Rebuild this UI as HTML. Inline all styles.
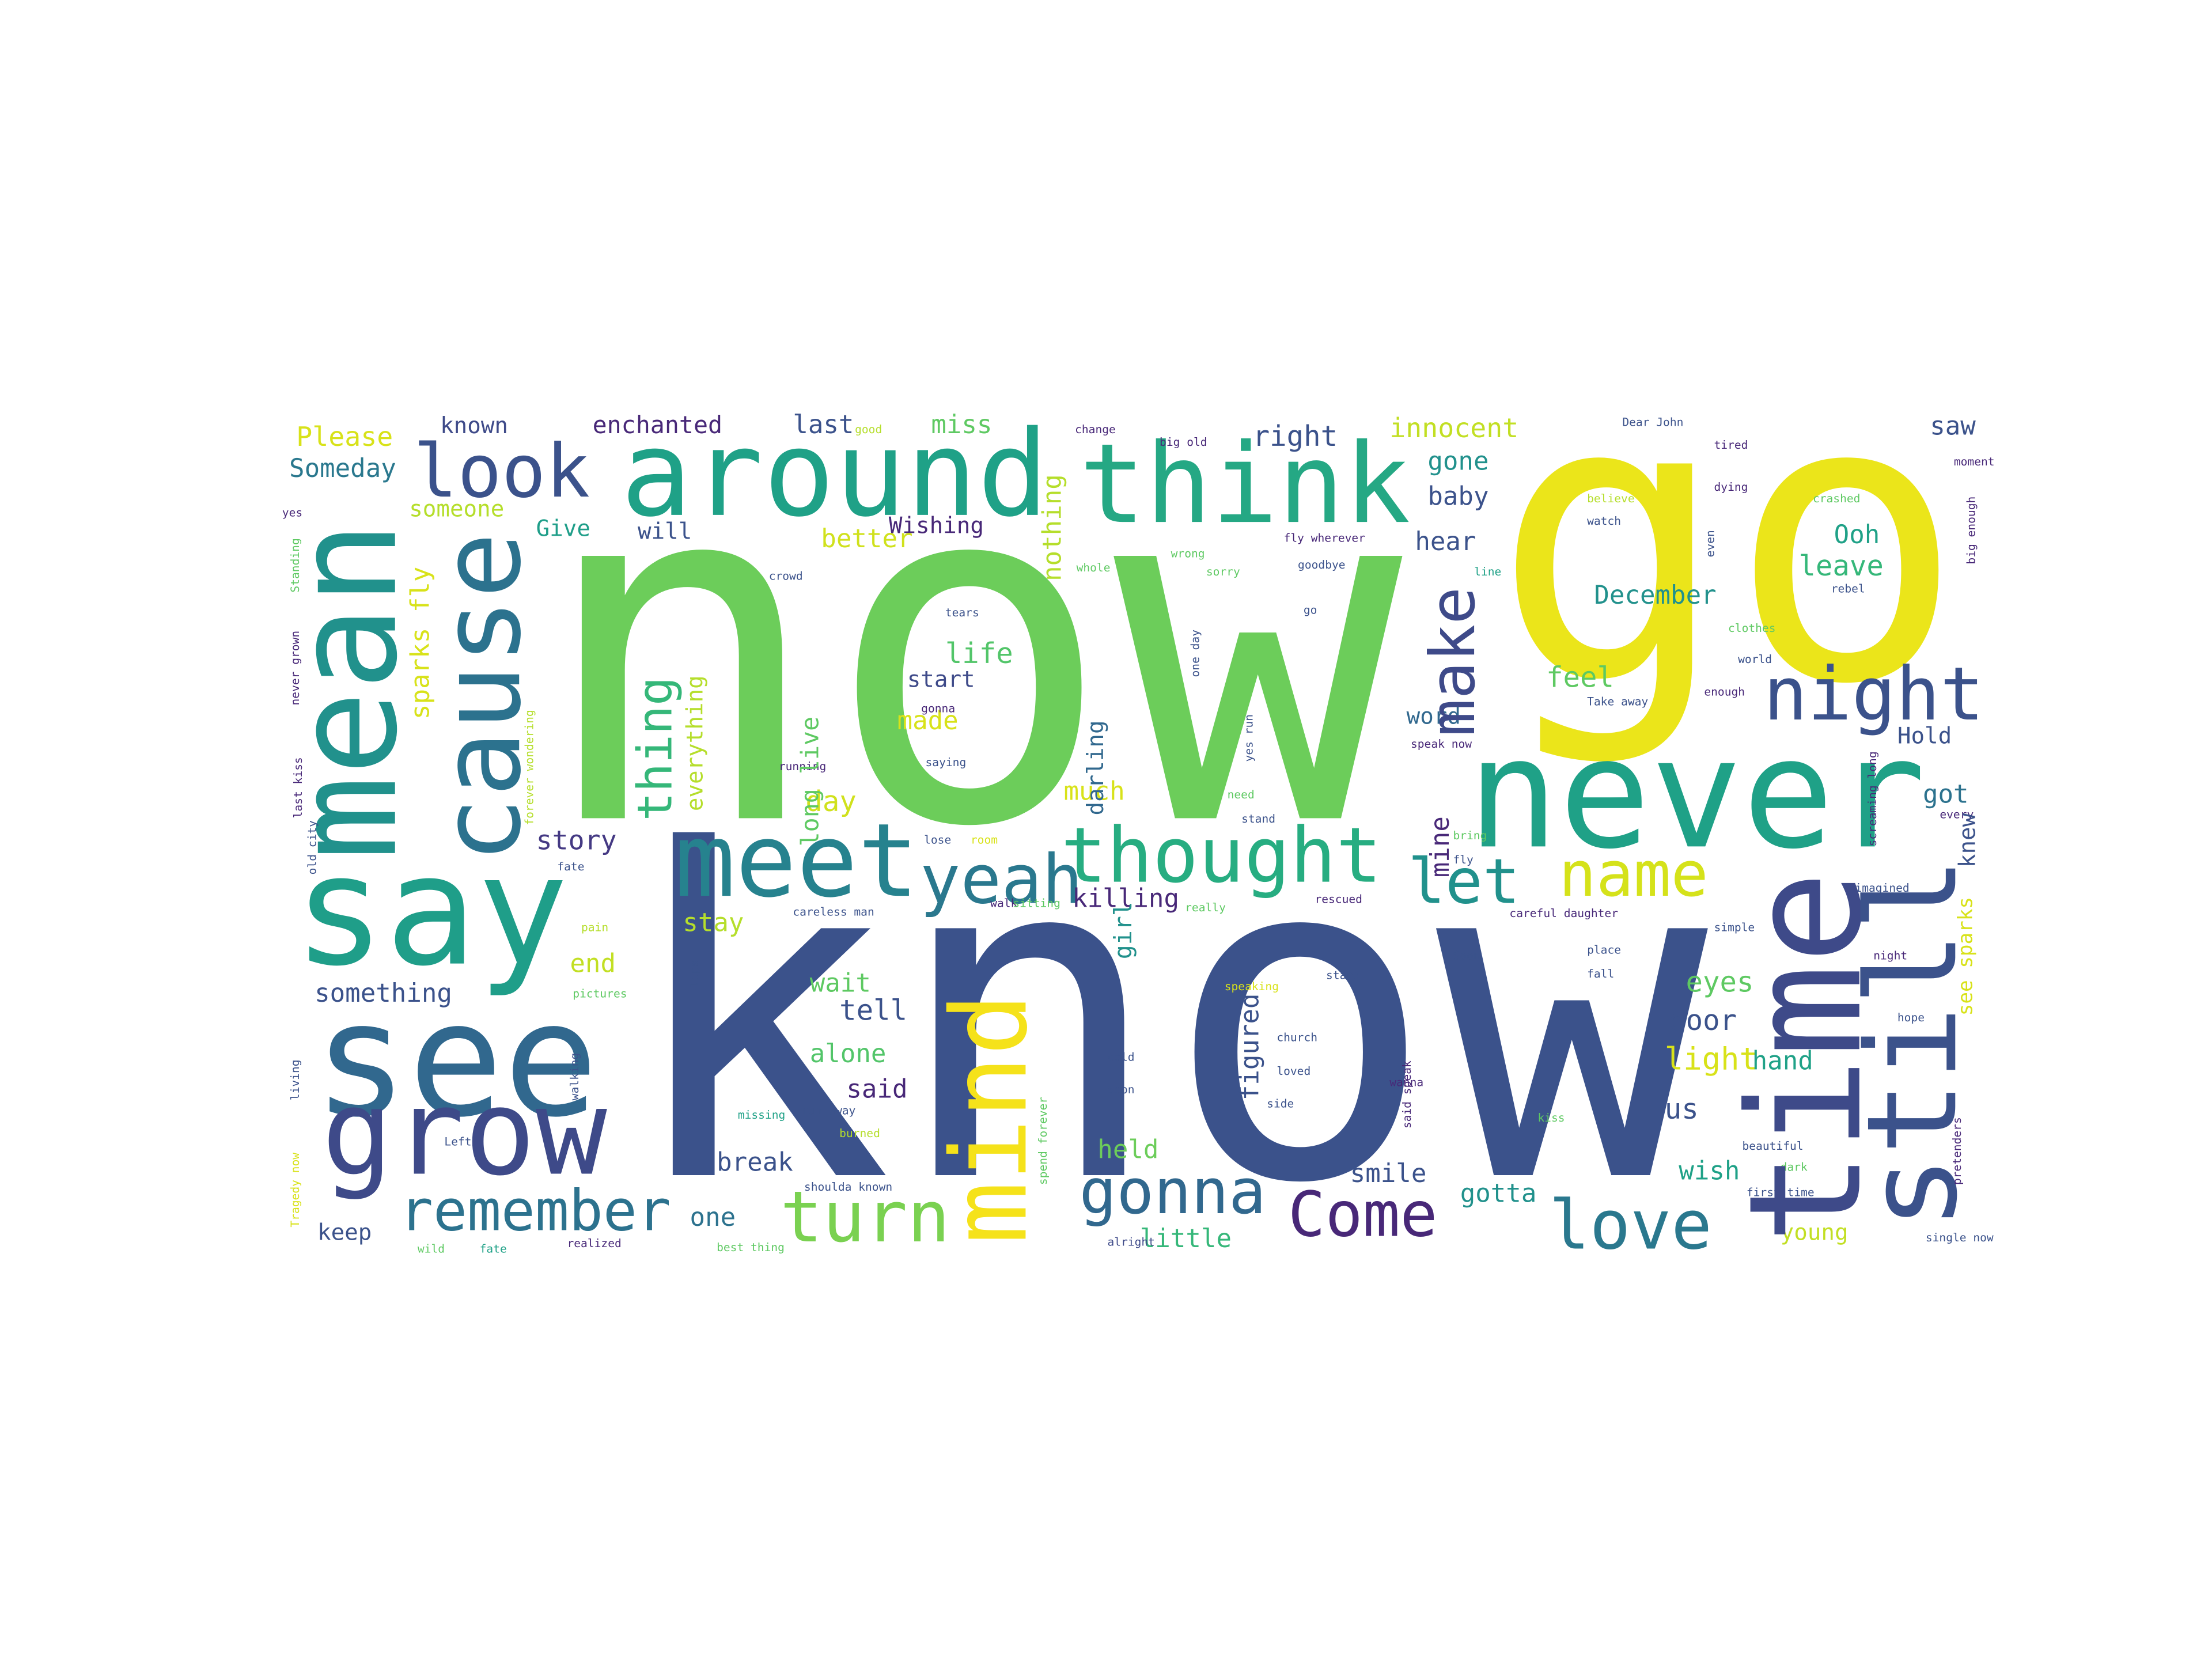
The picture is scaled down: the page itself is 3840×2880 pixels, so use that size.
<!DOCTYPE html>
<html><head><meta charset="utf-8"><style>
html,body{margin:0;padding:0;background:#fff;width:3840px;height:2880px;overflow:hidden}
svg{display:block}
text{font-family:"DejaVu Sans Mono","Liberation Mono",monospace}
</style></head><body>
<svg id="cloud" width="3840" height="2880" viewBox="0 0 1568 1176" xmlns="http://www.w3.org/2000/svg"></svg>
<script>
// word, x, baseline y, size, color, rotated
const words = [
["now",380,580,340,"#6ccd5a",0],
["know",440,833,320,"#3b528b",0],
["go",1058,480,278,"#ebe51a",0],
["never",1040,600,108,"#1fa187",0],
["say",208,683,108,"#1f9e89",0],
["see",222,790,112,"#31688e",0],
["grow",228,832,84,"#3e4a89",0],
["around",440,365,84,"#1fa187",0],
["think",765,370,78,"#25a884",0],
["look",293,352,52,"#3b528b",0],
["meet",478,635,72,"#26828e",0],
["thought",752,625,54,"#27ad81",0],
["yeah",652,640,48,"#2a788e",0],
["night",1250,510,52,"#3b528b",0],
["let",998,640,44,"#21918c",0],
["name",1105,635,44,"#d5e21a",0],
["remember",283,872,40,"#2c728e",0],
["turn",553,880,50,"#7ad151",0],
["gonna",765,860,44,"#31688e",0],
["Come",913,876,44,"#482878",0],
["love",1098,885,48,"#2a788e",0],
["Please",210,316,19,"#d8e219",0],["Someday",205,338,18,"#2a788e",0],["known",312,307,16,"#3e4a89",0],
["enchanted",420,307,17,"#482878",0],["last",562,307,18,"#3b528b",0],["miss",660,307,18,"#5ec962",0],
["right",888,316,20,"#3b528b",0],["innocent",985,310,19,"#c2df23",0],["saw",1368,308,18,"#3b528b",0],
["someone",290,366,16,"#b5de2b",0],["Give",380,380,16,"#1f9e89",0],["will",452,382,16,"#3b528b",0],
["better",582,388,18,"#d0e11c",0],["Wishing",630,378,16,"#482878",0],["gone",1012,333,18,"#21918c",0],
["baby",1012,358,18,"#3b528b",0],["hear",1003,390,18,"#3b528b",0],["Ooh",1300,385,18,"#1fa187",0],
["leave",1275,408,20,"#35b779",0],["December",1130,428,18,"#21918c",0],["life",670,470,20,"#52c569",0],
["start",643,487,16,"#3e4a89",0],["feel",1096,487,20,"#5ec962",0],["word",997,513,16,"#31688e",0],
["made",636,517,18,"#d8e219",0],["Hold",1345,527,16,"#3b528b",0],["day",571,575,20,"#d0e11c",0],
["much",754,567,18,"#d8e219",0],["got",1363,569,18,"#2c728e",0],["story",380,602,19,"#443983",0],
["stay",484,660,18,"#b5de2b",0],["killing",760,643,18,"#482878",0],["end",404,689,18,"#c2df23",0],
["something",223,710,18,"#3b528b",0],["wait",574,703,18,"#5ec962",0],["eyes",1195,703,20,"#5ec962",0],
["tell",595,723,20,"#3b528b",0],["door",1183,730,20,"#3b528b",0],["alone",574,753,18,"#52c569",0],
["light",1180,758,22,"#d8e219",0],["hand",1242,758,18,"#1fa187",0],["said",600,778,18,"#482878",0],
["us",1180,793,20,"#3b528b",0],["held",778,821,18,"#6ccd5a",0],["break",508,830,18,"#3b528b",0],
["smile",957,838,18,"#3b528b",0],["wish",1190,836,18,"#1fa187",0],["gotta",1035,852,18,"#21918c",0],
["one",489,869,18,"#2c728e",0],["keep",225,879,16,"#3b528b",0],["little",808,884,18,"#35b779",0],
["young",1262,879,16,"#c2df23",0],
["good",606,307,8,"#b5de2b",0],["change",762,307,8,"#482878",0],["big old",822,316,8,"#482878",0],
["Dear John",1150,302,8,"#3b528b",0],["tired",1215,318,8,"#482878",0],["believe",1125,356,8,"#b5de2b",0],
["dying",1215,348,8,"#482878",0],["crashed",1285,356,8,"#5ec962",0],["watch",1125,372,8,"#3b528b",0],
["fly wherever",910,384,8,"#482878",0],["goodbye",920,403,8,"#3b528b",0],["rebel",1298,420,8,"#3b528b",0],
["clothes",1225,448,8,"#5ec962",0],["world",1232,470,8,"#3b528b",0],["enough",1208,493,8,"#482878",0],
["Take away",1125,500,8,"#3b528b",0],["speak now",1000,530,8,"#482878",0],["stand",880,583,8,"#3b528b",0],
["imagined",1315,632,8,"#3b528b",0],["careful daughter",1070,650,8,"#482878",0],["simple",1215,660,8,"#3b528b",0],
["place",1125,676,8,"#3b528b",0],["fall",1125,693,8,"#3b528b",0],["night",1328,680,8,"#482878",0],
["hope",1345,724,8,"#3b528b",0],["church",905,738,8,"#3b528b",0],["loved",905,762,8,"#3b528b",0],
["side",898,785,8,"#3b528b",0],["wanna",985,770,8,"#482878",0],["beautiful",1235,815,8,"#3b528b",0],
["dark",1262,830,8,"#5ec962",0],["first time",1238,848,8,"#3b528b",0],["single now",1365,880,8,"#3b528b",0],
["alright",785,883,8,"#3e4a89",0],["realized",402,884,8,"#482878",0],["best thing",508,887,8,"#5ec962",0],
["wild",296,888,8,"#5ec962",0],["fate",340,888,8,"#1fa187",0],["careless man",562,649,8,"#3b528b",0],
["running",552,546,8,"#482878",0],["saying",656,543,8,"#3b528b",0],["tears",670,437,8,"#3b528b",0],
["crowd",545,411,8,"#3b528b",0],["missing",523,793,8,"#1fa187",0],["run away",568,790,8,"#3b528b",0],
["burned",595,806,8,"#b5de2b",0],["shoulda known",570,844,8,"#3b528b",0],["Left",315,812,8,"#3b528b",0],
["pictures",406,707,8,"#5ec962",0],["pain",412,660,8,"#b5de2b",0],["fate",395,617,8,"#3b528b",0],
["kiss",1090,795,8,"#5ec962",0],["Soon",785,775,8,"#3b528b",0],["cold",785,752,8,"#3b528b",0],
["speaking",868,702,8,"#d8e219",0],["need",870,566,8,"#5ec962",0],["wrong",830,395,8,"#5ec962",0],
["sorry",855,408,8,"#5ec962",0],["whole",763,405,8,"#5ec962",0],["lose",655,598,8,"#3b528b",0],
["room",688,598,8,"#d8e219",0],["walk",702,643,8,"#482878",0],["sitting",718,643,8,"#5ec962",0],
["moment",1385,330,8,"#482878",0],["yes",200,366,8,"#482878",0],["line",1045,408,8,"#1fa187",0],
["go",924,435,8,"#3b528b",0],["gonna",653,505,8,"#482878",0],["really",840,646,8,"#5ec962",0],
["stand",940,694,8,"#3b528b",0],["rescued",932,640,8,"#482878",0],["Soon",1030,680,8,"#3b528b",0],
["bring",1030,595,8,"#5ec962",0],["fly",1030,612,8,"#3b528b",0],["every",1375,580,8,"#482878",0],
// rotated
["mean",280,610,100,"#21918c",1],
["cause",368,612,78,"#2c728e",1],
["time",1318,882,110,"#3e4a89",1],
["still",1386,872,88,"#3b528b",1],
["mind",727,882,74,"#f5e21a",1],
["make",1045,522,44,"#3e4a89",1],
["thing",476,582,34,"#35b779",1],
["nothing",752,412,18,"#b5de2b",1],
["sparks fly",304,510,18,"#d8e219",1],
["everything",498,575,16,"#b5de2b",1],
["long live",580,600,17,"#5ec962",1],
["darling",782,578,16,"#31688e",1],
["girl",802,680,17,"#21918c",1],
["figured",892,780,18,"#3b528b",1],
["mine",1027,622,18,"#482878",1],
["knew",1400,615,16,"#3b528b",1],
["see sparks",1398,720,14,"#d8e219",1],
["forever wondering",378,585,8,"#b5de2b",1],
["never grown",212,500,8,"#482878",1],
["last kiss",214,580,8,"#482878",1],
["old city",224,620,8,"#3b528b",1],
["Tragedy now",212,870,8,"#d8e219",1],
["living",212,780,8,"#3b528b",1],
["Standing",212,420,8,"#5ec962",1],
["screaming long",1330,600,8,"#482878",1],
["pretenders",1390,840,8,"#482878",1],
["walking",410,780,8,"#3b528b",1],
["spend forever",742,840,8,"#5ec962",1],
["said speak",1000,800,8,"#482878",1],
["yes run",888,540,8,"#3b528b",1],
["big enough",1400,400,8,"#482878",1],
["even",1215,395,8,"#3b528b",1],
["lips",495,700,8,"#3b528b",1],
["one day",850,480,8,"#3b528b",1]
];
const svg = document.getElementById('cloud');
const NS = 'http://www.w3.org/2000/svg';
for (const w of words) {
  const t = document.createElementNS(NS, 'text');
  t.textContent = w[0];
  t.setAttribute('font-size', w[3]);
  t.setAttribute('fill', w[4]);
  if (w[5]) t.setAttribute('transform', 'translate(' + w[1] + ',' + w[2] + ') rotate(-90)');
  else { t.setAttribute('x', w[1]); t.setAttribute('y', w[2]); }
  
  
  svg.appendChild(t);
}
</script>
</body></html>
